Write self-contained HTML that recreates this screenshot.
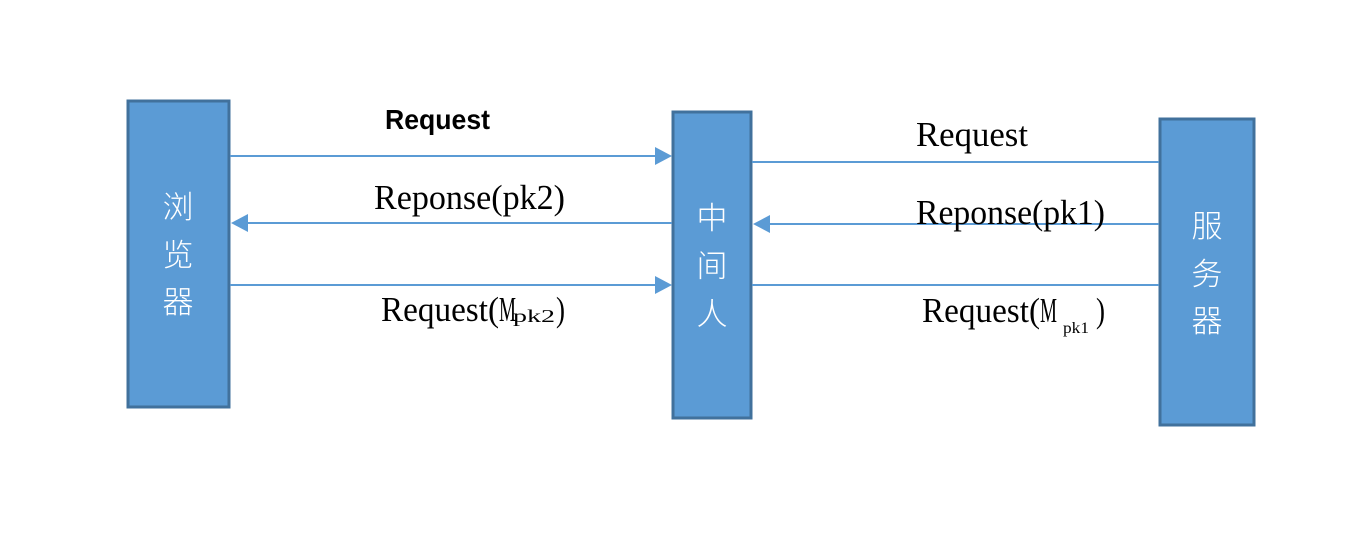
<!DOCTYPE html>
<html><head><meta charset="utf-8"><style>
html,body{margin:0;padding:0;background:#fff;}
svg{display:block;}
.s{font-family:"Liberation Serif","Noto Serif CJK SC",serif;font-size:35px;fill:#000;}
.c{font-family:"Liberation Sans","Noto Sans CJK SC",sans-serif;font-size:31px;fill:#fff;text-anchor:middle;font-weight:300;}
</style></head><body>
<svg width="1366" height="557" viewBox="0 0 1366 557" xmlns="http://www.w3.org/2000/svg">
<g fill="#5b9bd5" stroke="#41719c" stroke-width="3">
<rect x="128" y="101" width="101" height="306"/>
<rect x="673" y="112" width="78" height="306"/>
<rect x="1160" y="119" width="94" height="306"/>
</g>
<g stroke="#5b9bd5" stroke-width="2">
<line x1="230" y1="156" x2="658" y2="156"/>
<line x1="248" y1="223" x2="672" y2="223"/>
<line x1="230" y1="285" x2="658" y2="285"/>
<line x1="752" y1="162" x2="1159" y2="162"/>
<line x1="770" y1="224" x2="1159" y2="224"/>
<line x1="752" y1="285" x2="1159" y2="285"/>
</g>
<g fill="#5b9bd5">
<polygon points="672,156 655,147 655,165"/>
<polygon points="231,223 248,214 248,232"/>
<polygon points="672,285 655,276 655,294"/>
<polygon points="753,224 770,215 770,233"/>
</g>
<text x="385" y="129" style="font-family:'Liberation Sans',sans-serif;font-size:28px;font-weight:bold;fill:#000" textLength="105" lengthAdjust="spacingAndGlyphs">Request</text>
<text class="s" x="374" y="209" textLength="191" lengthAdjust="spacingAndGlyphs">Reponse(pk2)</text>
<text class="s" x="381" y="321" textLength="118" lengthAdjust="spacingAndGlyphs">Request(</text>
<text class="s" x="499" y="321" textLength="17" lengthAdjust="spacingAndGlyphs">M</text>
<text class="s" x="513" y="322" style="font-size:18px" textLength="42" lengthAdjust="spacingAndGlyphs">pk2</text>
<text class="s" x="556" y="321" textLength="9" lengthAdjust="spacingAndGlyphs">)</text>
<text class="s" x="916" y="146" textLength="112" lengthAdjust="spacingAndGlyphs">Request</text>
<text class="s" x="916" y="224" textLength="189" lengthAdjust="spacingAndGlyphs">Reponse(pk1)</text>
<text class="s" x="922" y="322" textLength="118" lengthAdjust="spacingAndGlyphs">Request(</text>
<text class="s" x="1040" y="322" textLength="17" lengthAdjust="spacingAndGlyphs">M</text>
<text class="s" x="1063" y="333" style="font-size:16px" textLength="26" lengthAdjust="spacingAndGlyphs">pk1</text>
<text class="s" x="1096" y="322" textLength="9" lengthAdjust="spacingAndGlyphs">)</text>
<text class="c" x="178" y="218">浏</text>
<text class="c" x="178" y="266">览</text>
<text class="c" x="178" y="313">器</text>
<text class="c" x="712" y="229">中</text>
<text class="c" x="712" y="277">间</text>
<text class="c" x="712" y="325">人</text>
<text class="c" x="1207" y="237">服</text>
<text class="c" x="1207" y="285">务</text>
<text class="c" x="1207" y="332">器</text>
</svg>
</body></html>
